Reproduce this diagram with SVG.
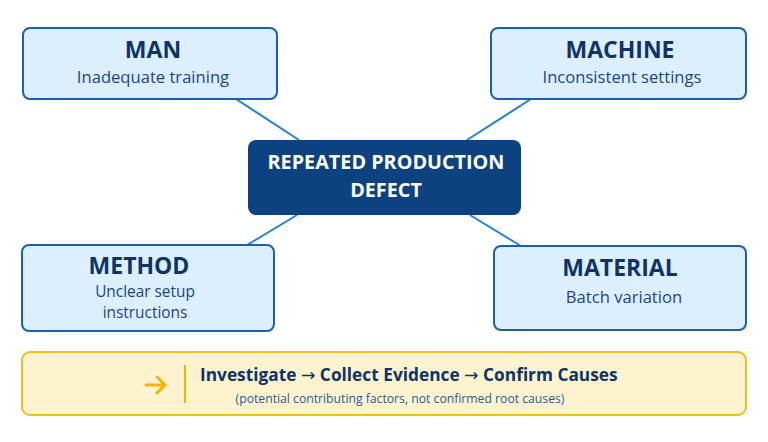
<svg xmlns="http://www.w3.org/2000/svg" width="768" height="442" viewBox="0 0 768 442">
<style>
.box{fill:#dcefff;stroke:#1d5faa;stroke-width:2}
.title{font-family:"Open Sans","Liberation Sans",sans-serif;font-weight:700;font-size:23px;fill:#0f3366;text-anchor:middle}
.sub{font-family:"Open Sans","Liberation Sans",sans-serif;font-size:16.6px;fill:#1a4585;text-anchor:middle}
.ctext{font-family:"Open Sans","Liberation Sans",sans-serif;font-weight:700;font-size:19.8px;fill:#ffffff;text-anchor:middle}
.conn{stroke:#1f82d8;stroke-width:2;fill:none}
.main{font-family:"Open Sans","Liberation Sans",sans-serif;font-weight:700;font-size:17.3px;fill:#0f3366}
.arr{font-family:"DejaVu Sans",sans-serif;font-weight:400}
.note{font-family:"Open Sans","Liberation Sans",sans-serif;font-size:12.2px;fill:#2a5a9a;text-anchor:middle}
</style>
<rect width="768" height="442" fill="#ffffff"/>
<g id="connectors">
<line class="conn" x1="236" y1="99" x2="299" y2="140"/>
<line class="conn" x1="531" y1="99" x2="467" y2="140"/>
<line class="conn" x1="297" y1="215" x2="247" y2="245"/>
<line class="conn" x1="470" y1="215" x2="521" y2="246"/>
</g>
<g id="man">
<rect class="box" x="23" y="28" width="254" height="71" rx="7"/>
<text class="title" x="153" y="58">MAN</text>
<text class="sub" x="153" y="83">Inadequate training</text>
</g>
<g id="machine">
<rect class="box" x="491" y="28" width="255" height="71" rx="7"/>
<text class="title" x="620" y="58">MACHINE</text>
<text class="sub" x="622" y="83">Inconsistent settings</text>
</g>
<g id="center">
<rect x="248" y="140" width="273" height="75" rx="8" fill="#0d4280"/>
<text class="ctext" x="386" y="169">REPEATED PRODUCTION</text>
<text class="ctext" x="386" y="197">DEFECT</text>
</g>
<g id="method">
<rect class="box" x="22" y="245" width="252" height="86" rx="7"/>
<text class="title" x="139" y="274">METHOD</text>
<text class="sub" x="145" y="297" style="font-size:15.4px">Unclear setup</text>
<text class="sub" x="145" y="318" style="font-size:15.4px">instructions</text>
</g>
<g id="material">
<rect class="box" x="494" y="246" width="252" height="84" rx="7"/>
<text class="title" x="620" y="276">MATERIAL</text>
<text class="sub" x="624" y="303">Batch variation</text>
</g>
<g id="process">
<rect x="22" y="352" width="724" height="63" rx="8" fill="#fdf4cf" stroke="#f6bb1c" stroke-width="2"/>
<path d="M146 385 H164 M157 377 L165 385 L157 393" stroke="#f5b400" stroke-width="3" fill="none" stroke-linecap="round" stroke-linejoin="round"/>
<line x1="185" y1="365" x2="185" y2="403" stroke="#f5b400" stroke-width="2"/>
<text class="main" x="200" y="381">Investigate <tspan class="arr">→</tspan> Collect Evidence <tspan class="arr">→</tspan> Confirm Causes</text>
<text class="note" x="400" y="403">(potential contributing factors, not confirmed root causes)</text>
</g>
</svg>
